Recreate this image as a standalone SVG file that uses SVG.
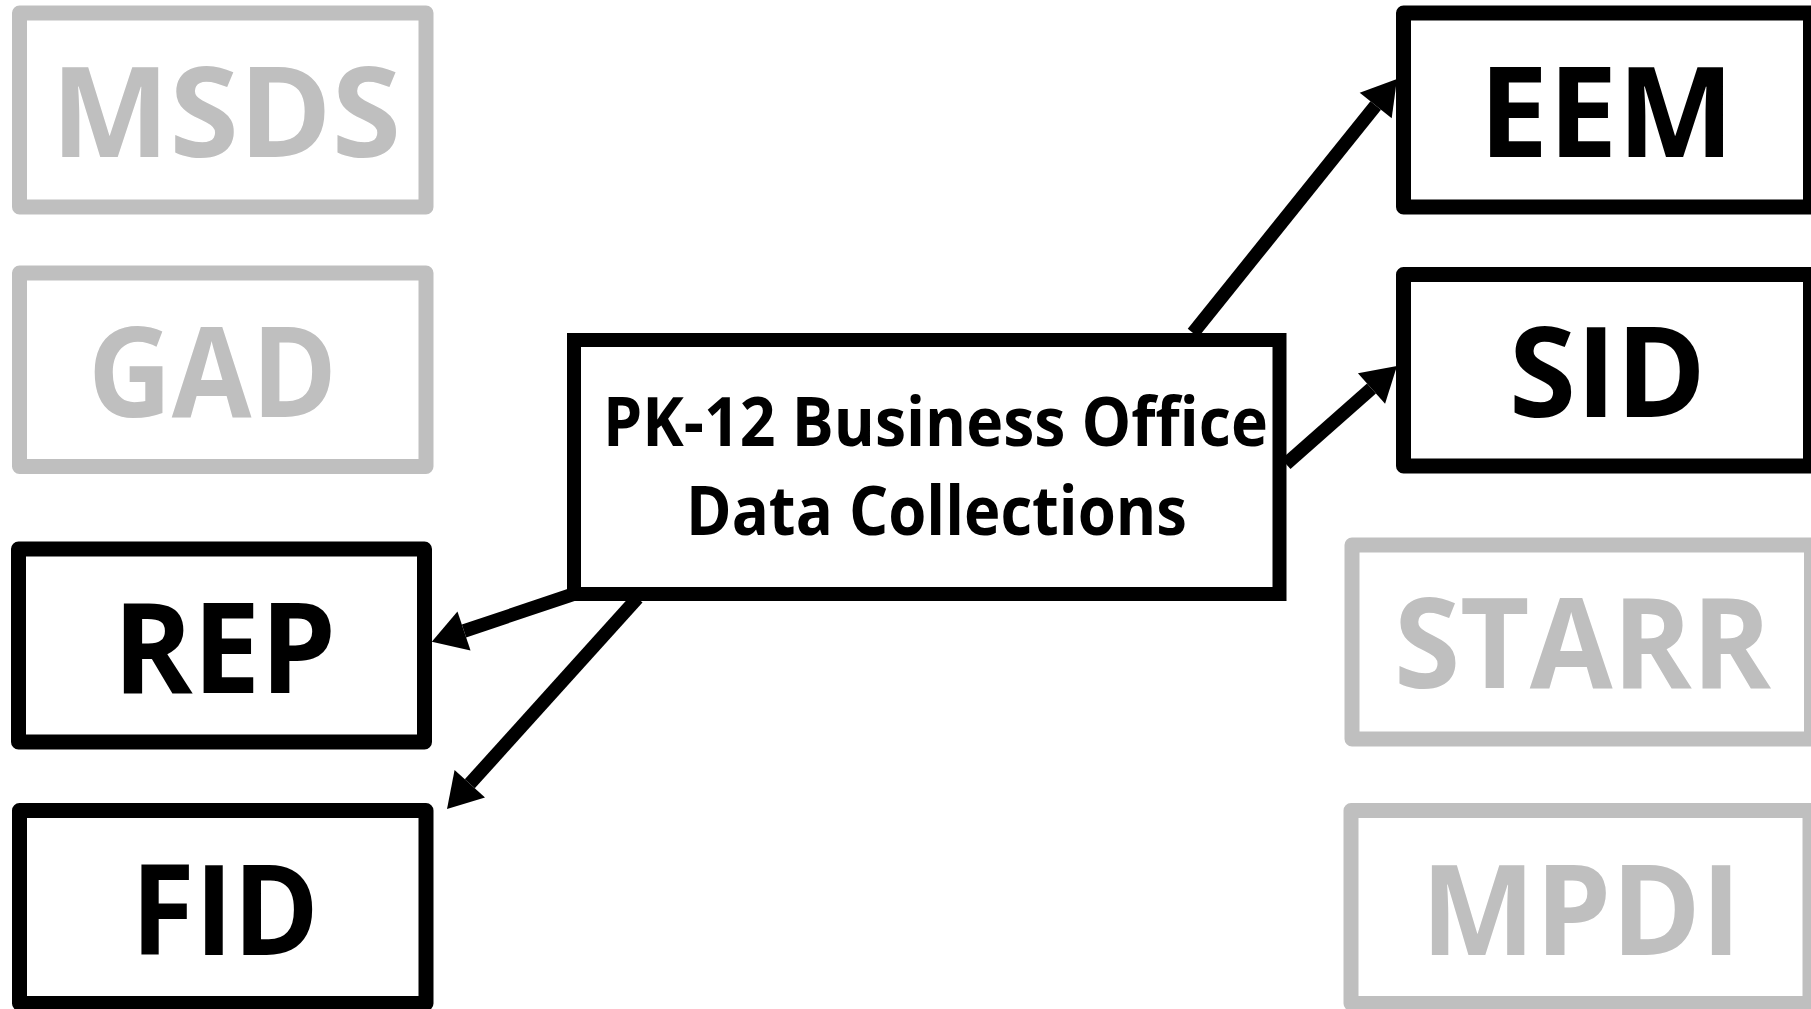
<svg xmlns="http://www.w3.org/2000/svg" width="1811" height="1009" viewBox="0 0 1811 1009">
<style>
.box{fill:#FFFFFF;stroke-width:15;stroke-linejoin:round}
.on{stroke:#000000}
.off{stroke:#BFBFBF}
.lbl{font-family:"Open Sans","Liberation Sans",sans-serif;font-weight:700;font-size:126px;text-anchor:middle}
.lon{fill:#000000}
.loff{fill:#BFBFBF}
.main{fill:#FFFFFF;stroke:#000000;stroke-width:14}
.mtxt{font-family:"Open Sans","Liberation Sans",sans-serif;font-weight:700;font-size:68px;text-anchor:middle;fill:#000000}
.conn{stroke:#000000;stroke-width:13.5;fill:none;marker-end:url(#ah)}
</style>
<defs>
<marker id="ah" markerUnits="userSpaceOnUse" viewBox="-1 -21 36 42" refX="0" refY="0" markerWidth="36" markerHeight="42" orient="auto">
<path d="M0,-20.5 L34,0 L0,20.5 Z" fill="#000000"/>
</marker>
</defs>
<rect width="1811" height="1009" fill="#FFFFFF"/>
<g id="msds"><rect class="box off" x="19.5" y="13" width="406.5" height="194"/><text class="lbl loff" x="226" y="157" textLength="350" lengthAdjust="spacingAndGlyphs">MSDS</text></g>
<g id="gad"><rect class="box off" x="19.5" y="273" width="406.5" height="193.5"/><text class="lbl loff" x="212.5" y="417" textLength="249" lengthAdjust="spacingAndGlyphs">GAD</text></g>
<g id="rep"><rect class="box on" x="18.5" y="549" width="406" height="193"/><text class="lbl lon" x="224.5" y="693" textLength="223" lengthAdjust="spacingAndGlyphs">REP</text></g>
<g id="fid"><rect class="box on" x="19.5" y="810.5" width="406.5" height="193"/><text class="lbl lon" x="225" y="955" textLength="188" lengthAdjust="spacingAndGlyphs">FID</text></g>
<g id="eem"><rect class="box on" x="1403.5" y="13" width="407" height="194"/><text class="lbl lon" x="1606.5" y="157" textLength="255" lengthAdjust="spacingAndGlyphs">EEM</text></g>
<g id="sid"><rect class="box on" x="1403.5" y="274.5" width="407" height="191.5"/><text class="lbl lon" x="1607.5" y="417" textLength="197" lengthAdjust="spacingAndGlyphs">SID</text></g>
<g id="starr"><rect class="box off" x="1352" y="545" width="459.5" height="194"/><text class="lbl loff" x="1582.5" y="688" textLength="377" lengthAdjust="spacingAndGlyphs">STARR</text></g>
<g id="mpdi"><rect class="box off" x="1351" y="810.5" width="459" height="193"/><text class="lbl loff" x="1581" y="955" textLength="320" lengthAdjust="spacingAndGlyphs">MPDI</text></g>
<g id="connectors">
<line class="conn" x1="1193" y1="333" x2="1375.7" y2="105.5"/>
<line class="conn" x1="1286" y1="464" x2="1371.5" y2="388.5"/>
<line class="conn" x1="574" y1="594" x2="464" y2="631"/>
<line class="conn" x1="637.5" y1="598" x2="469.8" y2="783.8"/>
</g>
<g id="center"><rect class="main" x="574" y="340" width="705.5" height="254"/><text class="mtxt" x="935.5" y="446" textLength="665" lengthAdjust="spacingAndGlyphs">PK-12 Business Office</text><text class="mtxt" x="936.5" y="535" textLength="501" lengthAdjust="spacingAndGlyphs">Data Collections</text></g>
</svg>
